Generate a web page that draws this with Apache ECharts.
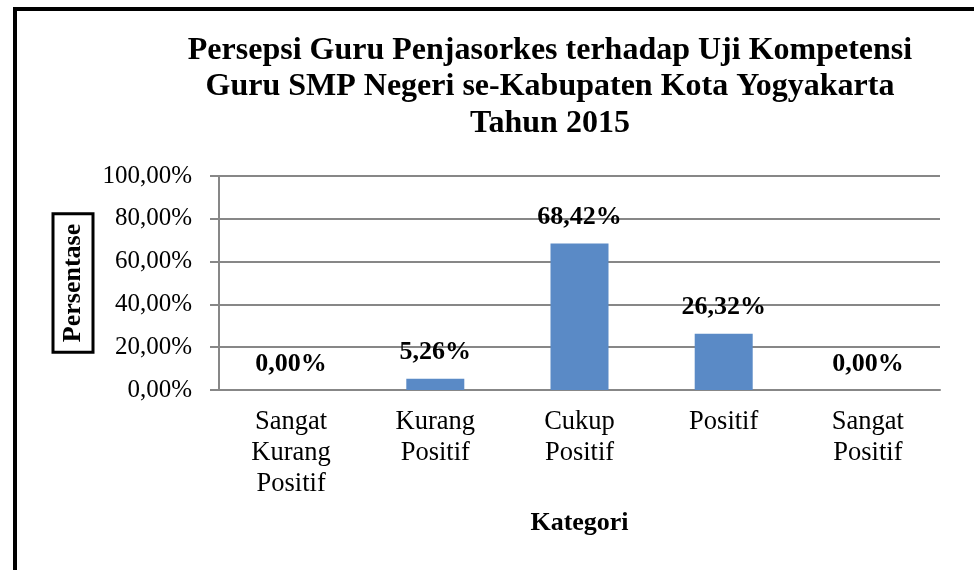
<!DOCTYPE html>
<html>
<head>
<meta charset="utf-8">
<script src="https://cdn.jsdelivr.net/npm/echarts@6/dist/echarts.min.js"></script>
<style>
html,body{margin:0;padding:0;background:#fff;}
#chart{width:974px;height:570px;}
</style>
</head>
<body>
<div id="chart"></div>
<script>
const categories = ['Sangat\nKurang\nPositif', 'Kurang\nPositif', 'Cukup\nPositif', 'Positif', 'Sangat\nPositif'];
const percentValues = [0, 5.26, 68.42, 26.32, 0];
const yTicks = [0, 20, 40, 60, 80, 100];
const titleText = 'Persepsi Guru Penjasorkes terhadap Uji Kompetensi\nGuru SMP Negeri se-Kabupaten Kota Yogyakarta\nTahun 2015';
const yName = 'Persentase';
const xName = 'Kategori';

const FONT = "'Liberation Serif', 'Times New Roman', serif";
const fmt = v => v.toFixed(2).replace('.', ',') + '%';

const chart = echarts.init(document.getElementById('chart'));
chart.setOption({
  animation: false,
  backgroundColor: '#ffffff',
  title: {
    text: titleText,
    left: 550,
    textAlign: 'center',
    top: 32,
    padding: 0,
    textStyle: { fontFamily: FONT, fontSize: 32, fontWeight: 'bold', color: '#000', lineHeight: 36.5 }
  },
  graphic: [
    { type: 'polyline', shape: { points: [[15, 570], [15, 9], [974, 9]] }, style: { stroke: '#000', lineWidth: 4, fill: null } }
  ],
  grid: { left: 219, right: 34, top: 176, bottom: 180, containLabel: false },
  xAxis: {
    type: 'category',
    data: categories,
    name: xName,
    nameLocation: 'middle',
    nameGap: 120,
    nameMoveOverlap: false,
    nameTextStyle: { fontFamily: FONT, fontSize: 26, fontWeight: 'bold', color: '#000' },
    axisLine: { show: true, lineStyle: { color: '#878787', width: 2 } },
    axisTick: { show: false },
    axisLabel: { interval: 0, margin: 17, fontFamily: FONT, fontSize: 26.5, color: '#000', lineHeight: 31, align: 'center' }
  },
  yAxis: {
    type: 'value',
    min: yTicks[0],
    max: yTicks[yTicks.length - 1],
    interval: yTicks[1] - yTicks[0],
    name: yName,
    nameLocation: 'middle',
    nameGap: 126,
    nameMoveOverlap: false,
    nameRotate: 90,
    nameTextStyle: {
      fontFamily: FONT, fontSize: 26, fontWeight: 'bold', color: '#000',
      borderColor: '#000', borderWidth: 3, padding: [5, 10, 5, 10], lineHeight: 30
    },
    axisLine: { show: true, lineStyle: { color: '#878787', width: 2 } },
    axisTick: { show: true, inside: false, length: 9, lineStyle: { color: '#878787', width: 2 } },
    splitLine: { show: true, lineStyle: { color: '#878787', width: 2 } },
    axisLabel: { margin: 27, fontFamily: FONT, fontSize: 25, color: '#000', formatter: v => fmt(v) }
  },
  series: [{
    type: 'bar',
    data: percentValues,
    barWidth: 58,
    itemStyle: { color: '#5a8ac6' },
    label: {
      show: true, position: 'top', distance: 13,
      fontFamily: FONT, fontSize: 26, fontWeight: 'bold', color: '#000',
      formatter: p => fmt(p.value)
    }
  }]
});
</script>
</body>
</html>
